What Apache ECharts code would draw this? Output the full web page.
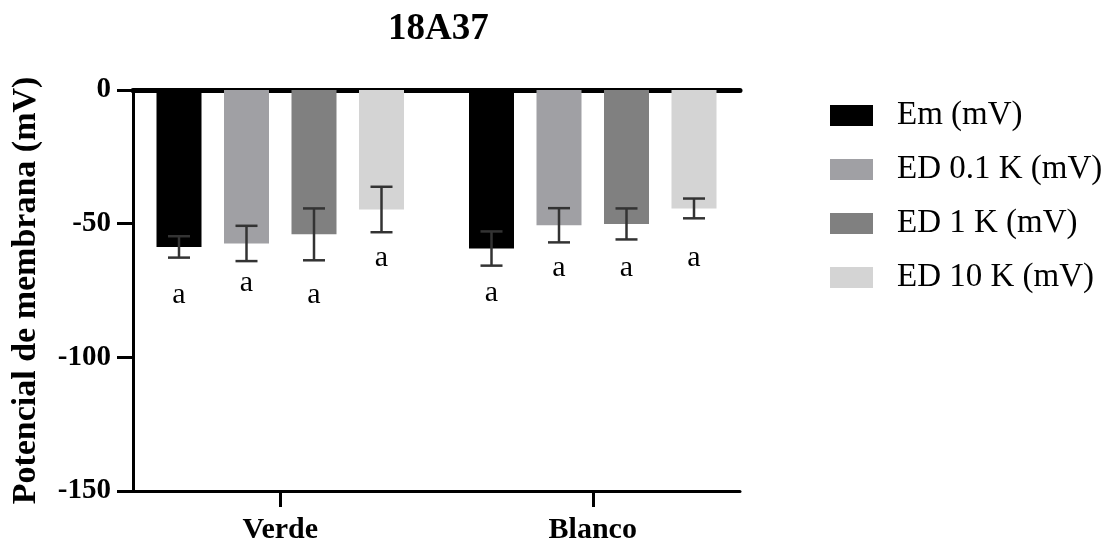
<!DOCTYPE html>
<html>
<head>
<meta charset="utf-8">
<script src="https://cdn.jsdelivr.net/npm/echarts@6/dist/echarts.min.js"></script>
<style>html,body{margin:0;padding:0;background:#fff;}#c{width:1116px;height:549px;}</style>
</head>
<body>
<div id="c"></div>
<script>
var categories = ['Verde', 'Blanco'];
var seriesNames = ['Em (mV)', 'ED 0.1 K (mV)', 'ED 1 K (mV)', 'ED 10 K (mV)'];
var emMean = [-58.7, -59.3];
var ed01Mean = [-57.4, -50.6];
var ed1Mean = [-54.0, -50.1];
var ed10Mean = [-44.7, -44.3];
var emSD = [4.0, 6.4];
var ed01SD = [6.6, 6.4];
var ed1SD = [9.7, 5.8];
var ed10SD = [8.5, 3.7];
var letters = ['a', 'a'];
var emLetterY = [-76.8, -76.0];
var ed01LetterY = [-72.3, -66.7];
var ed1LetterY = [-76.8, -66.7];
var ed10LetterY = [-62.9, -62.9];
var yTicks = [0, -50, -100, -150];

var means = [emMean, ed01Mean, ed1Mean, ed10Mean];
var sds = [emSD, ed01SD, ed1SD, ed10SD];
var letterYs = [emLetterY, ed01LetterY, ed1LetterY, ed10LetterY];
var colors = ['#000000', '#a0a0a4', '#808080', '#d4d4d4'];
var FONT = 'Liberation Serif';
var BAR_W = 45;
var BAR_GAP = 0.5;

var series = [];
seriesNames.forEach(function (name, i) {
  series.push({
    name: name, type: 'bar', xAxisIndex: 0, yAxisIndex: 0,
    data: means[i], barWidth: BAR_W, barGap: (BAR_GAP * 100) + '%',
    itemStyle: { color: colors[i] }, silent: true, animation: false
  });
});
seriesNames.forEach(function (name, i) {
  var data = categories.map(function (c, k) {
    return [k, means[i][k], sds[i][k], letterYs[i][k]];
  });
  series.push({
    type: 'custom', xAxisIndex: 0, yAxisIndex: 0, z: 10,
    data: data, encode: { x: 0, y: 1 }, animation: false, silent: true,
    renderItem: function (params, api) {
      var k = api.value(0), m = api.value(1), sd = api.value(2), ly = api.value(3);
      var step = BAR_W * (1 + BAR_GAP);
      var off = (i - 1.5) * step;
      var top = api.coord([k, m + sd]);
      var bot = api.coord([k, m - sd]);
      var lp = api.coord([k, ly]);
      var x = top[0] + off;
      var hw = 11;
      var st = { stroke: '#333333', lineWidth: 2.5 };
      return {
        type: 'group',
        children: [
          { type: 'line', shape: { x1: x, y1: top[1], x2: x, y2: bot[1] }, style: st },
          { type: 'line', shape: { x1: x - hw, y1: top[1], x2: x + hw, y2: top[1] }, style: st },
          { type: 'line', shape: { x1: x - hw, y1: bot[1], x2: x + hw, y2: bot[1] }, style: st },
          { type: 'text', style: { text: letters[k], x: x, y: lp[1], align: 'center', verticalAlign: 'middle',
            font: '30px "' + FONT + '"', fill: '#000' } }
        ]
      };
    }
  });
});

var option = {
  backgroundColor: '#fff',
  animation: false,
  title: {
    text: '18A37', left: 383, top: 6,
    textStyle: { fontFamily: FONT, fontWeight: 'bold', fontSize: 37, color: '#000' }
  },
  legend: {
    data: seriesNames, orient: 'vertical', left: 830, top: 99, padding: 0,
    itemWidth: 43, itemHeight: 21, itemGap: 21, icon: 'rect',
    textStyle: { fontFamily: FONT, fontSize: 33, color: '#000', padding: [0, 0, 0, 19] },
    selectedMode: false
  },
  grid: [
    { left: 124, width: 625, top: 90, height: 401 },
    { left: 133, width: 607, top: 90, height: 401 }
  ],
  xAxis: [
    {
      type: 'category', gridIndex: 0, data: categories, position: 'bottom',
      axisLine: { show: false, onZero: false },
      axisTick: { show: true, alignWithLabel: true, length: 16, lineStyle: { color: '#000', width: 3 } },
      axisLabel: { fontFamily: FONT, fontWeight: 'bold', fontSize: 30, color: '#000', margin: 24 },
      splitLine: { show: false }
    },
    {
      type: 'category', gridIndex: 1, data: categories, position: 'bottom',
      axisLine: { show: true, onZero: false, lineStyle: { color: '#000', width: 3 } },
      axisTick: { show: false }, axisLabel: { show: false }, splitLine: { show: false }
    },
    {
      type: 'category', gridIndex: 1, data: categories, position: 'top',
      axisLine: { show: true, onZero: false, lineStyle: { color: '#000', width: 5 } },
      axisTick: { show: false }, axisLabel: { show: false }, splitLine: { show: false }
    }
  ],
  yAxis: [
    {
      type: 'value', gridIndex: 0, min: -150, max: 0, interval: 50,
      axisLine: { show: false }, axisTick: { show: false }, axisLabel: { show: false }, splitLine: { show: false }
    },
    {
      type: 'value', gridIndex: 1, min: -150, max: 0, interval: 50,
      name: 'Potencial de membrana (mV)', nameLocation: 'middle', nameGap: 90,
      nameTextStyle: { fontFamily: FONT, fontWeight: 'bold', fontSize: 34, color: '#000' },
      axisLine: { show: true, lineStyle: { color: '#000', width: 3 } },
      axisTick: { show: true, length: 16, lineStyle: { color: '#000', width: 3 } },
      axisLabel: { fontFamily: FONT, fontWeight: 'bold', fontSize: 29, color: '#000', margin: 22,
        formatter: function (v) { return yTicks.indexOf(v) >= 0 ? String(v) : ''; } },
      splitLine: { show: false }
    }
  ],
  series: series
};
var chart = echarts.init(document.getElementById('c'), null, { renderer: 'canvas' });
chart.setOption(option);
</script>
</body>
</html>
